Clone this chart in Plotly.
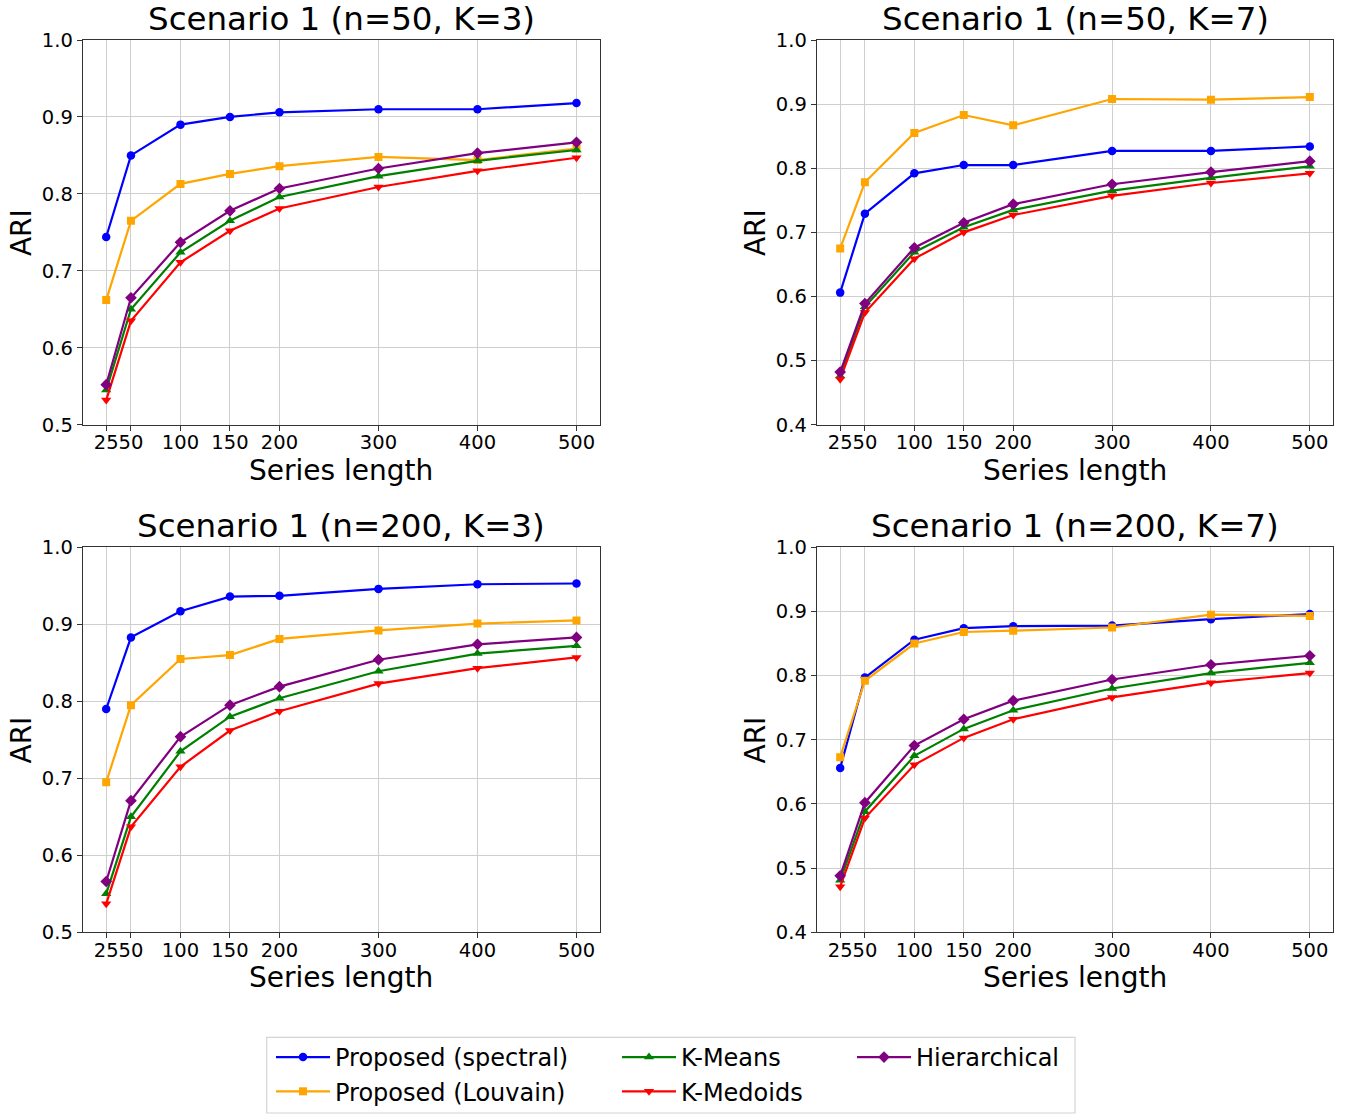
import plotly.graph_objects as go

# ---------------- data ----------------
lengths = [25, 50, 100, 150, 200, 300, 400, 500]
tick_labels = ["25", "50", "100", "150", "200", "300", "400", "500"]
methods = ["Proposed (spectral)", "Proposed (Louvain)", "K-Means", "K-Medoids", "Hierarchical"]
panel_titles = ["Scenario 1 (n=50, K=3)", "Scenario 1 (n=50, K=7)",
                "Scenario 1 (n=200, K=3)", "Scenario 1 (n=200, K=7)"]

# n=50, K=3
n50k3_spectral = [0.744, 0.850, 0.890, 0.900, 0.906, 0.910, 0.910, 0.918]
n50k3_louvain = [0.662, 0.765, 0.813, 0.826, 0.836, 0.848, 0.844, 0.859]
n50k3_kmeans = [0.545, 0.650, 0.724, 0.765, 0.796, 0.823, 0.843, 0.857]
n50k3_kmedoids = [0.532, 0.635, 0.711, 0.752, 0.781, 0.809, 0.830, 0.847]
n50k3_hier = [0.552, 0.665, 0.737, 0.778, 0.807, 0.833, 0.853, 0.867]

# n=50, K=7
n50k7_spectral = [0.606, 0.729, 0.792, 0.805, 0.805, 0.827, 0.827, 0.834]
n50k7_louvain = [0.675, 0.778, 0.855, 0.883, 0.867, 0.908, 0.907, 0.911]
n50k7_kmeans = [0.476, 0.584, 0.669, 0.708, 0.735, 0.765, 0.785, 0.803]
n50k7_kmedoids = [0.471, 0.575, 0.659, 0.700, 0.727, 0.757, 0.777, 0.792]
n50k7_hier = [0.482, 0.589, 0.676, 0.715, 0.744, 0.775, 0.794, 0.811]

# n=200, K=3
n200k3_spectral = [0.790, 0.883, 0.917, 0.936, 0.937, 0.946, 0.952, 0.953]
n200k3_louvain = [0.695, 0.795, 0.855, 0.860, 0.881, 0.892, 0.901, 0.905]
n200k3_kmeans = [0.550, 0.650, 0.735, 0.780, 0.804, 0.839, 0.862, 0.872]
n200k3_kmedoids = [0.537, 0.637, 0.715, 0.762, 0.787, 0.823, 0.843, 0.857]
n200k3_hier = [0.566, 0.671, 0.754, 0.795, 0.819, 0.854, 0.874, 0.883]

# n=200, K=7
n200k7_spectral = [0.656, 0.797, 0.856, 0.874, 0.877, 0.878, 0.888, 0.896]
n200k7_louvain = [0.673, 0.792, 0.850, 0.868, 0.870, 0.875, 0.895, 0.893]
n200k7_kmeans = [0.481, 0.588, 0.675, 0.717, 0.746, 0.780, 0.804, 0.820]
n200k7_kmedoids = [0.471, 0.578, 0.661, 0.703, 0.732, 0.766, 0.789, 0.804]
n200k7_hier = [0.488, 0.602, 0.691, 0.732, 0.761, 0.794, 0.817, 0.831]

y_ranges = [[0.5, 1.0], [0.4, 1.0], [0.5, 1.0], [0.4, 1.0]]

panels = [
    [n50k3_spectral, n50k3_louvain, n50k3_kmeans, n50k3_kmedoids, n50k3_hier],
    [n50k7_spectral, n50k7_louvain, n50k7_kmeans, n50k7_kmedoids, n50k7_hier],
    [n200k3_spectral, n200k3_louvain, n200k3_kmeans, n200k3_kmedoids, n200k3_hier],
    [n200k7_spectral, n200k7_louvain, n200k7_kmeans, n200k7_kmedoids, n200k7_hier],
]

# ---------------- styles ----------------
colors = ["#0000ff", "#ffa500", "#008000", "#ff0000", "#800080"]
symbols = ["circle", "square", "triangle-up", "triangle-down", "diamond"]
msizes = [8.5, 8, 9, 9, 9]
legend_ids = ["legend", "legend", "legend2", "legend2", "legend3"]

W, H = 1349, 1115
FONT = "DejaVu Sans"

x_doms = [[82.7 / W, 600 / W], [816.7 / W, 1333.3 / W]]
y_doms = [[1 - 424.7 / H, 1 - 40 / H], [1 - 932.3 / H, 1 - 547.3 / H]]

fig = go.Figure()
layout = dict(
    width=W, height=H,
    margin=dict(l=0, r=0, t=0, b=0),
    paper_bgcolor="white", plot_bgcolor="white",
    font=dict(family=FONT, color="black"),
)

annotations = []
for p in range(4):
    r, c = divmod(p, 2)
    ax = "" if p == 0 else str(p + 1)
    xd, yd = x_doms[c], y_doms[r]
    layout["xaxis" + ax] = dict(
        domain=xd, anchor="y" + ax, range=[1.25, 523.75],
        tickmode="array", tickvals=lengths, ticktext=tick_labels, tickangle=0,
        ticks="outside", ticklen=5, tickcolor="#333", tickwidth=1, ticklabelstandoff=-5,
        showline=True, linecolor="#333", linewidth=1, mirror=True,
        showgrid=True, gridcolor="#cfcfcf", gridwidth=1, zeroline=False,
        tickfont=dict(size=19.5, family=FONT, color="black"), automargin=False,
    )
    layout["yaxis" + ax] = dict(
        domain=yd, anchor="x" + ax, range=y_ranges[p],
        dtick=0.1, tick0=0.0, tickformat=".1f",
        ticks="outside", ticklen=5, tickcolor="#333", tickwidth=1,
        showline=True, linecolor="#333", linewidth=1, mirror=True,
        showgrid=True, gridcolor="#cfcfcf", gridwidth=1, zeroline=False,
        tickfont=dict(size=19.5, family=FONT, color="black"), automargin=False,
    )
    xc = (xd[0] + xd[1]) / 2
    yc = (yd[0] + yd[1]) / 2
    annotations.append(dict(text=panel_titles[p], x=xc, y=yd[1], xref="paper", yref="paper",
                            xanchor="center", yanchor="bottom", yshift=0, showarrow=False,
                            font=dict(size=32.5, family=FONT, color="black")))
    annotations.append(dict(text="Series length", x=xc, y=yd[0], xref="paper", yref="paper",
                            xanchor="center", yanchor="top", yshift=-27, showarrow=False,
                            font=dict(size=28, family=FONT, color="black")))
    annotations.append(dict(text="ARI", x=xd[0], y=yc, xref="paper", yref="paper",
                            xanchor="center", yanchor="middle", xshift=-61, textangle=-90,
                            showarrow=False, font=dict(size=28, family=FONT, color="black")))

    for m in range(5):
        fig.add_trace(go.Scatter(
            x=lengths, y=panels[p][m], name=methods[m], mode="lines+markers",
            line=dict(color=colors[m], width=2.2),
            marker=dict(symbol=symbols[m], size=msizes[m], color=colors[m]),
            xaxis="x" + ax, yaxis="y" + ax,
            showlegend=(p == 0), legend=legend_ids[m],
        ))

leg_common = dict(orientation="v", xanchor="left", yanchor="top", bgcolor="rgba(0,0,0,0)",
                  borderwidth=0, font=dict(size=24, family=FONT, color="black"),
                  tracegroupgap=0, itemwidth=54)
layout["legend"] = dict(leg_common, x=271 / W, y=1 - 1035 / H)
layout["legend2"] = dict(leg_common, x=617 / W, y=1 - 1035 / H)
layout["legend3"] = dict(leg_common, x=852 / W, y=1 - 1035 / H)

layout["shapes"] = [dict(type="rect", xref="paper", yref="paper",
                         x0=266.7 / W, x1=1075 / W, y0=1 - 1113 / H, y1=1 - 1037.3 / H,
                         line=dict(color="#d4d4d4", width=1.2), fillcolor="white", layer="below")]
layout["annotations"] = annotations

fig.update_layout(**layout)
fig.write_html("out.html")
